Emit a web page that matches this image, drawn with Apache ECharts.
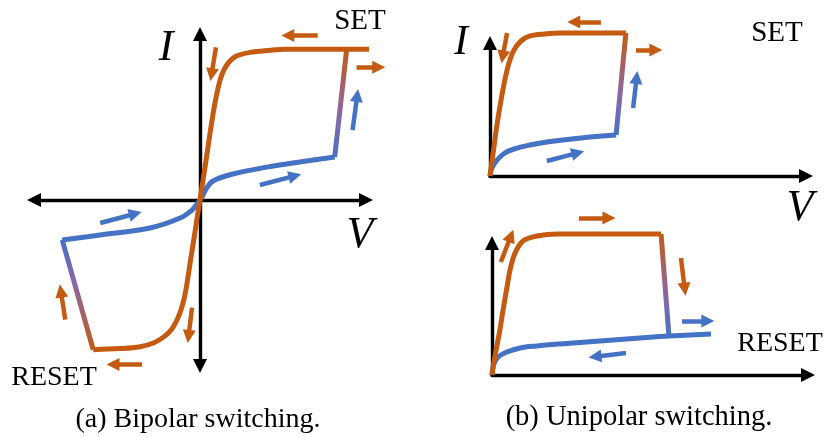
<!DOCTYPE html>
<html>
<head>
<meta charset="utf-8">
<script src="https://cdn.jsdelivr.net/npm/echarts@6/dist/echarts.min.js"></script>
<style>
  html, body { margin: 0; padding: 0; background: #fff; }
  #chart { width: 828px; height: 437px; }
</style>
</head>
<body>
<div id="chart"></div>
<script>
// ---- (a) Bipolar switching: V and I in normalised units, origin at 0 ----
const bipolarHigh = [
  [-0.669, -0.938], [-0.500, -0.931], [-0.375, -0.919], [-0.288, -0.894],
  [-0.225, -0.856], [-0.175, -0.806], [-0.138, -0.738], [-0.113, -0.669],
  [-0.094, -0.594], [-0.078, -0.500], [-0.059, -0.375], [-0.039, -0.250],
  [-0.020, -0.125], [0, 0],
  [0.019, 0.125], [0.038, 0.250], [0.063, 0.419], [0.088, 0.575],
  [0.113, 0.700], [0.138, 0.788], [0.175, 0.856], [0.225, 0.900],
  [0.313, 0.925], [0.438, 0.938], [0.531, 0.944], [1.063, 0.944]
];
const bipolarLow = [
  [-0.863, -0.250], [-0.625, -0.219], [-0.313, -0.175], [-0.125, -0.113],
  [-0.050, -0.063], [-0.019, -0.025], [0, 0], [0.019, 0.031],
  [0.038, 0.069], [0.081, 0.119], [0.206, 0.163], [0.419, 0.206],
  [0.625, 0.238], [0.844, 0.269]
];
const bipolarSet = [[0.919, 0.944], [0.844, 0.269]];
const bipolarReset = [[-0.863, -0.250], [-0.669, -0.938]];
const bipolarOrangeArrows = [
  [[0.738, 1.031], [0.550, 1.031]],
  [[0.981, 0.831], [1.120, 0.831]],
  [[0.100, 0.956], [0.072, 0.785]],
  [[-0.844, -0.750], [-0.872, -0.570]],
  [[-0.050, -0.675], [-0.072, -0.855]],
  [[-0.363, -1.031], [-0.545, -1.031]]
];
const bipolarBlueArrows = [
  [[0.956, 0.438], [0.985, 0.655]],
  [[0.375, 0.094], [0.595, 0.151]],
  [[-0.625, -0.144], [-0.405, -0.086]]
];

// ---- (b) Unipolar switching, SET (upper plot) ----
const uniSetHigh = [
  [0, 0], [0.009, 0.158], [0.022, 0.383], [0.035, 0.571], [0.047, 0.722],
  [0.060, 0.850], [0.076, 0.947], [0.098, 1.015], [0.127, 1.053],
  [0.174, 1.068], [0.222, 1.075], [0.430, 1.075]
];
const uniSetLow = [
  [0, 0], [0.006, 0.060], [0.022, 0.120], [0.047, 0.173], [0.076, 0.203],
  [0.127, 0.233], [0.180, 0.256], [0.288, 0.286], [0.399, 0.308]
];
const uniSetJump = [[0.430, 1.075], [0.399, 0.308]];
const uniSetOrangeArrows = [
  [[0.351, 1.158], [0.265, 1.158]],
  [[0.462, 0.947], [0.525, 0.947]],
  [[0.054, 1.075], [0.040, 0.895]]
];
const uniSetBlueArrows = [
  [[0.453, 0.511], [0.464, 0.740]],
  [[0.180, 0.113], [0.278, 0.174]]
];

// ---- (b) Unipolar switching, RESET (lower plot) ----
const uniResetHigh = [
  [0, 0], [0.006, 0.098], [0.016, 0.227], [0.025, 0.341], [0.035, 0.492],
  [0.047, 0.659], [0.057, 0.795], [0.073, 0.924], [0.098, 1.015],
  [0.142, 1.053], [0.209, 1.068], [0.535, 1.068]
];
const uniResetLow = [
  [0, 0], [0.006, 0.083], [0.019, 0.136], [0.047, 0.174], [0.089, 0.205],
  [0.142, 0.220], [0.215, 0.235], [0.342, 0.258], [0.468, 0.280],
  [0.560, 0.295], [0.693, 0.311]
];
const uniResetJump = [[0.535, 1.068], [0.560, 0.295]];
const uniResetOrangeArrows = [
  [[0.275, 1.189], [0.370, 1.189]],
  [[0.028, 0.856], [0.060, 1.055]],
  [[0.598, 0.886], [0.610, 0.650]]
];
const uniResetBlueArrows = [
  [[0.601, 0.409], [0.683, 0.409]],
  [[0.424, 0.167], [0.326, 0.139]]
];

// ---- labels ----
const axisLabelI = 'I';
const axisLabelV = 'V';
const setLabel = 'SET';
const resetLabel = 'RESET';
const captionA = '(a) Bipolar switching.';
const captionB = '(b) Unipolar switching.';

const ORANGE = '#C55A11';
const BLUE = '#4472C4';
const PURPLE = '#8867AA';

function grad(topColor, bottomColor) {
  return new echarts.graphic.LinearGradient(0, 0, 0, 1, [
    { offset: 0, color: topColor },
    { offset: topColor === ORANGE ? 0.62 : 0.38, color: PURPLE },
    { offset: 1, color: bottomColor }
  ]);
}

function axisDef(idx, min, max, both) {
  return {
    type: 'value', gridIndex: idx, min: min, max: max,
    axisTick: { show: false }, axisLabel: { show: false }, splitLine: { show: false },
    axisLine: {
      show: true, onZero: true,
      symbol: both ? ['triangle', 'triangle'] : ['none', 'triangle'],
      symbolSize: [14, 14],
      lineStyle: { color: '#000', width: 3.4 }
    }
  };
}

function curve(idx, data, color, z) {
  return {
    type: 'line', xAxisIndex: idx, yAxisIndex: idx, data: data,
    showSymbol: false, symbol: 'none', smooth: 0.35, clip: false, z: z || 3,
    lineStyle: { color: color, width: 5, cap: 'butt', join: 'miter' }
  };
}

function arrows(idx, data, color) {
  return {
    type: 'lines', coordinateSystem: 'cartesian2d', xAxisIndex: idx, yAxisIndex: idx,
    clip: false, z: 5,
    symbol: ['none', 'triangle'], symbolSize: [14, 13],
    lineStyle: { color: color, width: 4.5, opacity: 1, curveness: 0 },
    itemStyle: { color: color },
    data: data.map(function (d) { return { coords: d }; })
  };
}

const chart = echarts.init(document.getElementById('chart'), null, { renderer: 'canvas' });

const SERIF = '"Liberation Serif", "Times New Roman", serif';

function txt(content, x, y, font, align) {
  return {
    type: 'text', x: x, y: y, z: 10,
    style: { text: content, font: font, fill: '#000', textAlign: align || 'center', textVerticalAlign: 'middle' }
  };
}

chart.setOption({
  animation: false,
  backgroundColor: '#fff',
  grid: [
    { left: 34, right: 462, top: 34, bottom: 71 },
    { left: 490, right: 22, top: 43, bottom: 261 },
    { left: 492, right: 20, top: 243, bottom: 62 }
  ],
  xAxis: [axisDef(0, -1.04, 1.04, true), axisDef(1, 0, 1, false), axisDef(2, 0, 1, false)],
  yAxis: [axisDef(0, -1.04, 1.04, true), axisDef(1, 0, 1, false), axisDef(2, 0, 1, false)],
  series: [
    curve(0, bipolarLow, BLUE, 3),
    curve(0, bipolarHigh, ORANGE, 4),
    curve(0, bipolarSet, grad(ORANGE, BLUE), 3),
    curve(0, bipolarReset, grad(BLUE, ORANGE), 3),
    arrows(0, bipolarOrangeArrows, ORANGE),
    arrows(0, bipolarBlueArrows, BLUE),

    curve(1, uniSetLow, BLUE, 3),
    curve(1, uniSetHigh, ORANGE, 4),
    curve(1, uniSetJump, grad(ORANGE, BLUE), 3),
    arrows(1, uniSetOrangeArrows, ORANGE),
    arrows(1, uniSetBlueArrows, BLUE),

    curve(2, uniResetLow, BLUE, 3),
    curve(2, uniResetHigh, ORANGE, 4),
    curve(2, uniResetJump, grad(ORANGE, BLUE), 3),
    arrows(2, uniResetOrangeArrows, ORANGE),
    arrows(2, uniResetBlueArrows, BLUE)
  ],
  graphic: [
    txt(axisLabelI, 166, 48, 'italic 44px ' + SERIF),
    txt(axisLabelV, 360, 235, 'italic 44px ' + SERIF),
    txt(axisLabelI, 461, 43, 'italic 42px ' + SERIF),
    txt(axisLabelV, 800, 208, 'italic 44px ' + SERIF),
    txt(setLabel, 360, 21, '29px ' + SERIF),
    txt(resetLabel, 54, 378, '28px ' + SERIF),
    txt(setLabel, 777, 33, '29px ' + SERIF),
    txt(resetLabel, 780, 344, '28px ' + SERIF),
    txt(captionA, 198, 420, '28px ' + SERIF),
    txt(captionB, 639, 418, '28.5px ' + SERIF)
  ]
});
</script>
</body>
</html>
